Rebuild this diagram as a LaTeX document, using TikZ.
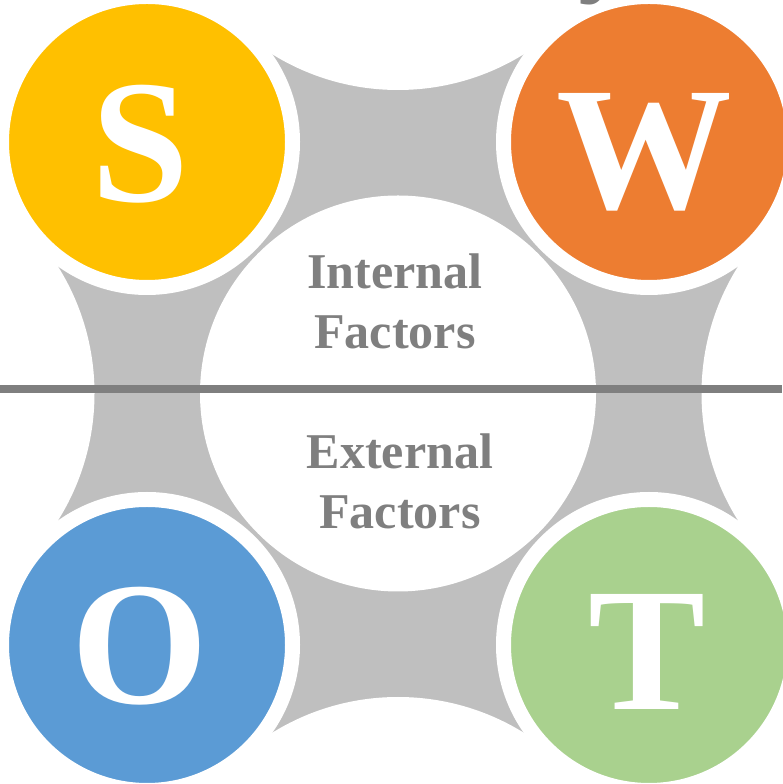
\documentclass[tikz,border=0pt]{standalone}
\usepackage{fontspec}
\setmainfont{Liberation Serif}
\usetikzlibrary{positioning}
\definecolor{swotS}{HTML}{FFC000}
\definecolor{swotW}{HTML}{ED7D31}
\definecolor{swotO}{HTML}{5B9BD5}
\definecolor{swotT}{HTML}{A9D18E}
\definecolor{linkgray}{HTML}{BFBFBF}
\definecolor{textgray}{HTML}{7F7F7F}

\begin{document}
\begin{tikzpicture}[
    swot/.style={circle,draw=white,line width=3mm,minimum size=5.82cm,inner sep=0pt},
    letter/.style={text=white,inner sep=0pt,font=\fontsize{100}{100}\selectfont\bfseries},
    factor/.style={align=center,text=textgray,font=\fontsize{28.5}{34}\selectfont\bfseries}]

\useasboundingbox (0,0) rectangle (15.64,15.68);

    \coordinate (C) at (7.96,7.81);

    % grey links between the four circles
    \fill[linkgray] (1.16,1.01) rectangle (14.76,14.61);
    \fill[white] (C) +(0,10.85) circle (4.78)
                     +(0,-10.85) circle (4.78)
                     +(10.85,0) circle (4.78)
                     +(-10.85,0) circle (4.78);
    \fill[white] (C) circle (3.96);

    \path
    (2.94,12.84)  node[swot,fill=swotS] (S) {}
    (12.98,12.84) node[swot,fill=swotW] (W) {}
    (2.94,2.78)   node[swot,fill=swotO] (O) {}
    (12.98,2.78)  node[swot,fill=swotT] (T) {};

    \node[letter] (Sl) at (2.80,12.80) {S};
    \node[letter] (Wl) at (12.88,12.64) {W};
    \node[letter] (Ol) at (2.80,2.76) {O};
    \node[letter] (Tl) at (12.94,2.64) {T};

    \coordinate (L) at (0,7.9);
    \coordinate (R) at (15.64,7.9);
    \draw[line width=1.6mm,draw=textgray] (L) -- (R);

    \node[factor] (int) at (7.9,9.65) {Internal\\Factors};
    \node[factor] (ext) at (8.0,6.05) {External\\Factors};

    % tail of the cut-off title
    \node[anchor=base west,inner sep=0pt,text=textgray,font=\fontsize{62}{62}\selectfont\bfseries] (title) at (11.56,16.04) {y};

\end{tikzpicture}
\end{document}
